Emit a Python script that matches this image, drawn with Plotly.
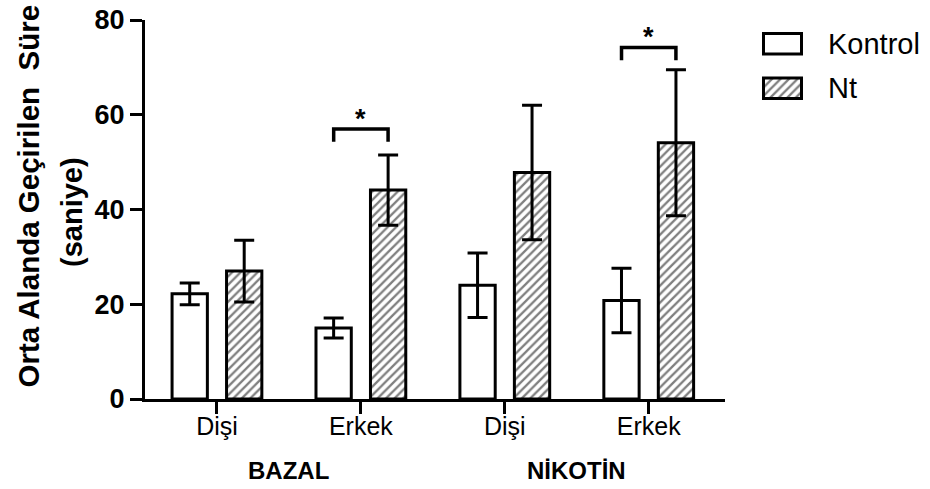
import plotly.graph_objects as go

# ---- data ----
group_names = ["BAZAL", "NİKOTİN"]
sex_labels = ["Dişi", "Erkek", "Dişi", "Erkek"]
kontrol_mean = [22.2, 15.0, 24.0, 20.8]
kontrol_err = [2.3, 2.1, 6.8, 6.8]
nt_mean = [27.0, 44.1, 47.8, 54.1]
nt_err = [6.5, 7.4, 14.2, 15.4]
series_names = ["Kontrol", "Nt"]
sig_index = [1, 3]
sig_bracket_y = [57.0, 74.2]
y_ticks = [0, 20, 40, 60, 80]

FONT = "Arial, Liberation Sans, sans-serif"
xpos = list(range(len(sex_labels)))
HATCH = dict(fgcolor="black", bgcolor="white", size=6, solidity=0.38)

fig = go.Figure()

fig.add_trace(go.Bar(
    x=xpos, y=kontrol_mean, name=series_names[0],
    marker=dict(color="white", line=dict(color="black", width=3)),
    error_y=dict(type="data", array=kontrol_err, color="black", thickness=3, width=10),
    showlegend=False, hoverinfo="skip",
))
fig.add_trace(go.Bar(
    x=xpos, y=nt_mean, name=series_names[1],
    marker=dict(color="white", line=dict(color="black", width=3),
                pattern=dict(shape="/", **HATCH)),
    error_y=dict(type="data", array=nt_err, color="black", thickness=3, width=10),
    showlegend=False, hoverinfo="skip",
))

# legend swatches (inset axis)
fig.add_trace(go.Bar(
    x=[1, 1], y=[1, 0], orientation="h", base=0, width=0.46,
    xaxis="x2", yaxis="y2",
    marker=dict(color="white", line=dict(color="black", width=3),
                pattern=dict(shape=["", "/"], **HATCH)),
    showlegend=False, hoverinfo="skip",
))

H = 379.0
def py(p):  # pixel y -> paper
    return (399 - p) / H
W = 780.0
def px(p):
    return (p - 145) / W

annotations = []
# legend text
for i, nm in enumerate(series_names):
    annotations.append(dict(text=nm, xref="paper", yref="paper", x=px(826), y=py(43.5 + 44.5 * i),
                            xanchor="left", yanchor="middle", showarrow=False,
                            font=dict(family=FONT, size=29, color="black")))

# significance brackets
half = 0.189
shapes = []
for gi, by in zip(sig_index, sig_bracket_y):
    shapes.append(dict(type="path", xref="x", yref="y",
                       path=f"M {gi-half},{by-2.7} L {gi-half},{by} L {gi+half},{by} L {gi+half},{by-2.7}",
                       line=dict(color="black", width=3.5)))
    annotations.append(dict(text="<b>*</b>", x=gi, y=by, xref="x", yref="y", showarrow=False,
                            xanchor="center", yanchor="bottom", yshift=-7,
                            font=dict(family=FONT, size=27, color="black")))

# group labels
for k, g in enumerate(group_names):
    annotations.append(dict(text=f"<b>{g}</b>", x=2 * k + 0.5, xref="x", y=py(470.5), yref="paper",
                            showarrow=False, xanchor="center", yanchor="middle",
                            font=dict(family=FONT, size=24, color="black")))

# y axis title (two lines)
annotations.append(dict(text="<b>Orta Alanda Geçirilen  Süre</b>", xref="paper", yref="paper",
                        x=px(28), y=py(390), xanchor="center", yanchor="bottom", textangle=-90,
                        showarrow=False, font=dict(family=FONT, size=29.5, color="black")))
annotations.append(dict(text="<b>(saniye)</b>", xref="paper", yref="paper",
                        x=px(72), y=py(212), xanchor="center", yanchor="middle", textangle=-90,
                        showarrow=False, font=dict(family=FONT, size=29, color="black")))

fig.update_layout(
    width=930, height=489,
    margin=dict(l=145, r=5, t=20, b=90),
    paper_bgcolor="white", plot_bgcolor="white",
    barmode="group", bargap=0.243, bargroupgap=0.352,
    font=dict(family=FONT, color="black"),
    showlegend=False,
    xaxis=dict(domain=[0, px(725)], range=[-0.5, 3.53], tickvals=xpos, ticktext=sex_labels,
               showline=True, linewidth=3, linecolor="black", ticks="outside", ticklen=12,
               tickwidth=3, tickcolor="black", showgrid=False, zeroline=False,
               ticklabelstandoff=-9,
               tickfont=dict(family=FONT, size=25, color="black")),
    yaxis=dict(range=[0, 80], tickvals=y_ticks, showline=True, linewidth=3, linecolor="black",
               ticks="outside", ticklen=12, tickwidth=3, tickcolor="black", showgrid=False,
               zeroline=False, tickfont=dict(family=FONT, size=27, color="black", weight="bold")),
    xaxis2=dict(domain=[px(761.6), px(803.4)], range=[-0.05, 1.05], visible=False, anchor="y2"),
    yaxis2=dict(domain=[py(110.5), py(21.5)], range=[-0.5, 1.5], visible=False, anchor="x2"),
    shapes=shapes, annotations=annotations,
)

fig.write_html("out.html", config={"displayModeBar": False},
               post_script="document.body.style.margin='0';")
